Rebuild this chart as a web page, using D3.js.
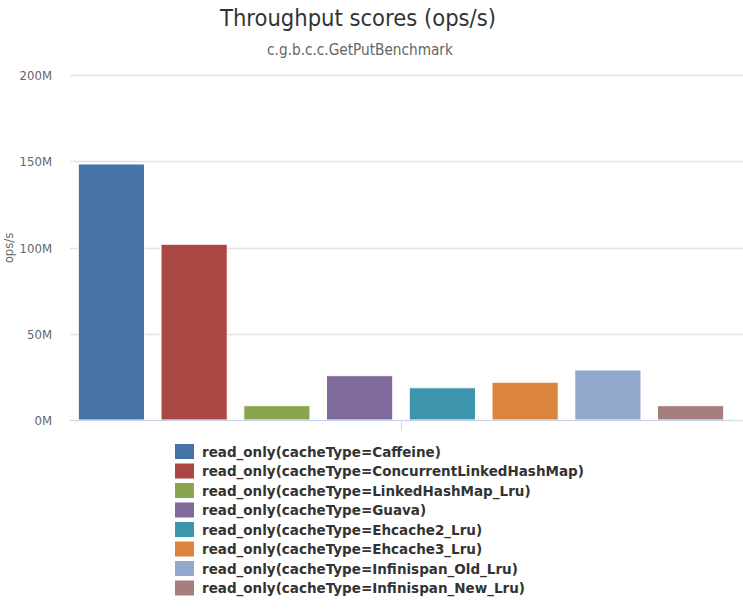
<!DOCTYPE html>
<html>
<head>
<meta charset="utf-8">
<script src="https://cdn.jsdelivr.net/npm/d3@7"></script>
<style>
  body { margin: 0; background: #fff; }
  svg { display: block; }
</style>
</head>
<body>
<svg width="743" height="609"></svg>
<script>
const SERIES = [
  "read_only(cacheType=Caffeine)",
  "read_only(cacheType=ConcurrentLinkedHashMap)",
  "read_only(cacheType=LinkedHashMap_Lru)",
  "read_only(cacheType=Guava)",
  "read_only(cacheType=Ehcache2_Lru)",
  "read_only(cacheType=Ehcache3_Lru)",
  "read_only(cacheType=Infinispan_Old_Lru)",
  "read_only(cacheType=Infinispan_New_Lru)",
];
const SCORES = [148.4e6, 101.9e6, 8.3e6, 25.7e6, 18.7e6, 21.9e6, 29.0e6, 8.3e6];
const COLORS = ["#4572A7", "#AA4643", "#89A54E", "#80699B", "#3D96AE", "#DB843D", "#92A8CD", "#A47D7C"];
const Y_TICKS = [0, 50e6, 100e6, 150e6, 200e6];

const svg = d3.select("svg");
const condensed = "'DejaVu Sans Condensed', 'Liberation Sans Narrow', 'DejaVu Sans', sans-serif";

const x = d3.scaleBand()
  .domain(SERIES)
  .range([70, 732])
  .paddingInner(0.2)
  .paddingOuter(0.1);
const y = d3.scaleLinear().domain([0, 200e6]).range([420, 75]);

// title + subtitle
svg.append("text")
  .attr("x", 358).attr("y", 26)
  .attr("text-anchor", "middle")
  .style("font-family", condensed)
  .style("font-size", "23.5px")
  .style("fill", "#333")
  .text("Throughput scores (ops/s)");
svg.append("text")
  .attr("x", 360).attr("y", 55)
  .attr("text-anchor", "middle")
  .style("font-family", condensed)
  .style("font-size", "15.2px")
  .style("fill", "#666")
  .text("c.g.b.c.c.GetPutBenchmark");

// grid
svg.append("g")
  .selectAll("line")
  .data(Y_TICKS)
  .join("line")
  .attr("x1", 70).attr("x2", 743)
  .attr("y1", d => Math.round(y(d)) + 0.5)
  .attr("y2", d => Math.round(y(d)) + 0.5)
  .attr("stroke", "#e3e3e3")
  .attr("stroke-width", 1.5);

// y axis labels
const yAxis = d3.axisLeft(y)
  .tickValues(Y_TICKS)
  .tickSize(0)
  .tickPadding(0)
  .tickFormat(d => (d / 1e6) + "M");
const gy = svg.append("g").attr("transform", "translate(52,0)").call(yAxis);
gy.select(".domain").remove();
gy.selectAll("text")
  .attr("dy", "0.35em")
  .style("font-family", condensed)
  .style("font-size", "13px")
  .style("fill", "#666");

svg.append("text")
  .attr("transform", "translate(3,248) rotate(-90)")
  .attr("text-anchor", "middle")
  .attr("dy", "0.8em")
  .style("font-family", condensed)
  .style("font-size", "13px")
  .style("fill", "#666")
  .text("ops/s");

// bars
svg.append("g")
  .selectAll("rect")
  .data(SERIES)
  .join("rect")
  .attr("x", d => x(d))
  .attr("width", x.bandwidth())
  .attr("y", (d, i) => y(SCORES[i]))
  .attr("height", (d, i) => y(0) - y(SCORES[i]))
  .attr("fill", (d, i) => COLORS[i])
  .attr("stroke", "#fff")
  .attr("stroke-width", 1);

// x axis line + single category tick
svg.append("line")
  .attr("x1", 70).attr("x2", 731)
  .attr("y1", 420.5).attr("y2", 420.5)
  .attr("stroke", "#ccd6eb");
svg.append("line")
  .attr("x1", 401.5).attr("x2", 401.5)
  .attr("y1", 420).attr("y2", 431)
  .attr("stroke", "#ccd6eb");

// legend
const legend = svg.append("g")
  .selectAll("g")
  .data(SERIES)
  .join("g")
  .attr("transform", (d, i) => `translate(175,${444 + i * 19.5})`);
legend.append("rect")
  .attr("width", 19).attr("height", 15)
  .attr("fill", (d, i) => COLORS[i]);
legend.append("text")
  .attr("x", 27).attr("y", 8)
  .attr("dy", "0.35em")
  .style("font-family", "'DejaVu Sans', sans-serif")
  .style("font-weight", "bold")
  .style("font-size", "13.5px")
  .style("fill", "#333")
  .text(d => d);
</script>
</body>
</html>
